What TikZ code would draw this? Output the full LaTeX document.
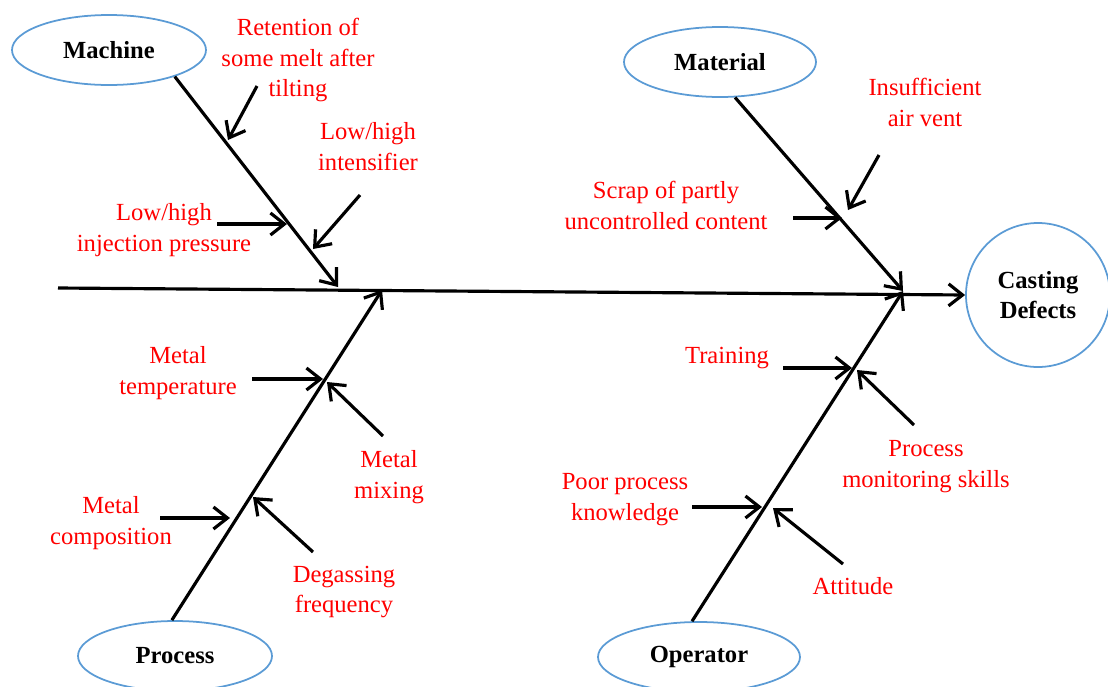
\documentclass[tikz,border=0pt]{standalone}
\usepackage{fontspec}
\setmainfont{Liberation Serif}
\usetikzlibrary{arrows.meta,shapes.geometric}

\definecolor{ovalblue}{RGB}{91,155,213}

\tikzset{
    cause/.style={ellipse, draw=ovalblue, line width=0.5pt, minimum width=#1,
        minimum height=0.7cm, inner sep=0pt, font=\fontsize{7}{8.5}\selectfont\bfseries},
    cause/.default=1.94cm,
    factor/.style={text=red, align=center, font=\fontsize{7}{8.8}\selectfont},
    bone/.style={line width=0.9pt, -{Straight Barb[length=1.4mm,width=2.2mm]}},
}

\begin{document}
\begin{tikzpicture}
    \useasboundingbox (0,0) rectangle (11.08,6.86);

    % main categories and effect
    \node[cause] (machine) at (1.09,6.36) {Machine};
    \node[cause=1.92cm] (material) at (7.20,6.24) {Material};
    \node[cause] (process) at (1.75,0.30) {Process};
    \node[cause=2.02cm] (operator) at (6.99,0.29) {Operator};
    \node[circle, draw=ovalblue, line width=0.5pt, minimum size=1.44cm, inner sep=0pt,
        align=center, font=\fontsize{7}{8.5}\selectfont\bfseries] (defects) at (10.38,3.91) {Casting\\Defects};

    % spine and bones
    \coordinate (tail) at (0.58,3.98);
    \coordinate (mtip) at (3.38,3.99);
    \coordinate (ptip) at (3.82,3.96);
    \coordinate (matip) at (9.03,3.95);
    \coordinate (optip) at (9.03,3.95);
    \draw[bone] (tail) -- (defects.west);
    \draw[bone] (machine.-22) -- (mtip);
    \draw[bone] (material.-67) -- (matip);
    \draw[bone] (process.95) -- (ptip);
    \draw[bone] (operator.101) -- (optip);

    % machine
    \node[factor] (ret) at (2.98,6.26) {Retention of\\some melt after\\tilting};
    \node[factor] (int) at (3.68,5.39) {Low/high\\intensifier};
    \node[factor] (inj) at (1.64,4.56) {Low/high\\injection pressure};
    \coordinate (ret1) at (2.57,6.00); \coordinate (ret2) at (2.28,5.46);
    \coordinate (int1) at (3.60,4.91); \coordinate (int2) at (3.13,4.37);
    \coordinate (inj1) at (2.17,4.62); \coordinate (inj2) at (2.87,4.62);
    \draw[bone] (ret1) -- (ret2);
    \draw[bone] (int1) -- (int2);
    \draw[bone] (inj1) -- (inj2);

    % material
    \node[factor] (scrap) at (6.66,4.81) {Scrap of partly\\uncontrolled content};
    \node[factor] (vent) at (9.25,5.84) {Insufficient\\air vent};
    \coordinate (scrap1) at (7.93,4.68); \coordinate (scrap2) at (8.42,4.68);
    \coordinate (vent1) at (8.79,5.31); \coordinate (vent2) at (8.48,4.76);
    \draw[bone] (scrap1) -- (scrap2);
    \draw[bone] (vent1) -- (vent2);

    % process
    \node[factor] (temp) at (1.78,3.13) {Metal\\temperature};
    \node[factor] (mix) at (3.89,2.09) {Metal\\mixing};
    \node[factor] (comp) at (1.11,1.63) {Metal\\composition};
    \node[factor] (degas) at (3.44,0.94) {Degassing\\frequency};
    \coordinate (temp1) at (2.52,3.07); \coordinate (temp2) at (3.23,3.07);
    \coordinate (mix1) at (3.83,2.50); \coordinate (mix2) at (3.27,3.04);
    \coordinate (comp1) at (1.60,1.68); \coordinate (comp2) at (2.30,1.68);
    \coordinate (degas1) at (3.13,1.34); \coordinate (degas2) at (2.53,1.89);
    \draw[bone] (temp1) -- (temp2);
    \draw[bone] (mix1) -- (mix2);
    \draw[bone] (comp1) -- (comp2);
    \draw[bone] (degas1) -- (degas2);

    % operator
    \node[factor] (train) at (7.27,3.28) {Training};
    \node[factor] (monit) at (9.26,2.19) {Process\\monitoring skills};
    \node[factor] (poor) at (6.25,1.86) {Poor process\\knowledge};
    \node[factor] (att) at (8.53,1.00) {Attitude};
    \coordinate (train1) at (7.83,3.18); \coordinate (train2) at (8.52,3.18);
    \coordinate (monit1) at (9.14,2.61); \coordinate (monit2) at (8.57,3.16);
    \coordinate (poor1) at (6.92,1.79); \coordinate (poor2) at (7.62,1.79);
    \coordinate (att1) at (8.43,1.22); \coordinate (att2) at (7.73,1.78);
    \draw[bone] (train1) -- (train2);
    \draw[bone] (monit1) -- (monit2);
    \draw[bone] (poor1) -- (poor2);
    \draw[bone] (att1) -- (att2);
\end{tikzpicture}
\end{document}
